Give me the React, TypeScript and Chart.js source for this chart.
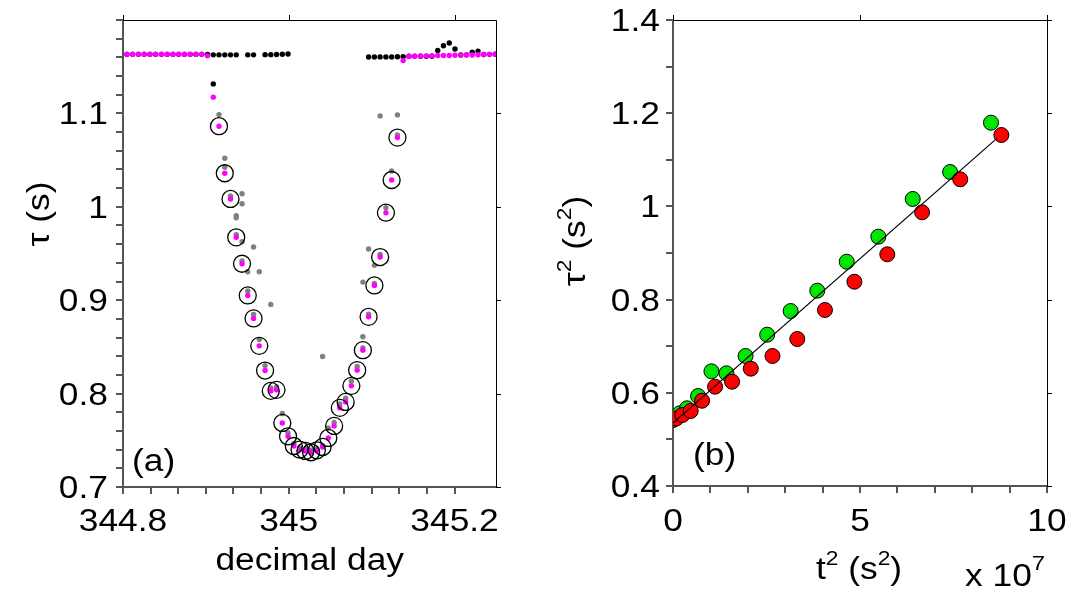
import React, { useEffect, useRef } from 'react';
import { Chart, registerables } from 'chart.js';

Chart.register(...registerables);

// ---------------- Panel (a) data ----------------
const magentaDay = [
  344.8047, 344.8116, 344.8186, 344.8255, 344.8325, 344.8394, 344.8464, 344.8533, 344.8603, 344.8672,
  344.8741, 344.8811, 344.888, 344.895, 344.9019, 344.9089, 344.9158, 344.9228, 344.9297, 344.9366,
  344.9436, 344.9505, 344.9575, 344.9644, 344.9714, 344.9783, 344.9852, 344.9922, 344.9991, 345.0061,
  345.013, 345.02, 345.0269, 345.0339, 345.0408, 345.0477, 345.0547, 345.0616, 345.0686, 345.0755,
  345.0825, 345.0894, 345.0963, 345.1033, 345.1102, 345.1172, 345.1241, 345.1311, 345.138, 345.145,
  345.1519, 345.1588, 345.1658, 345.1727, 345.1797, 345.1866, 345.1936, 345.2005, 345.2075, 345.2144,
  345.2213, 345.2283, 345.2352, 345.2422, 345.2491,
];
const magentaTau = [
  1.1634, 1.1634, 1.1634, 1.1634, 1.1634, 1.1634, 1.1634, 1.1634, 1.1634, 1.1634,
  1.1634, 1.1634, 1.1634, 1.1634, 1.1616, 1.1174, 1.0863, 1.0359, 1.0084, 0.9673,
  0.939, 0.9051, 0.8805, 0.8511, 0.8247, 0.8029, 0.804, 0.7686, 0.7543, 0.7439,
  0.7401, 0.7386, 0.7372, 0.7393, 0.7429, 0.7525, 0.7654, 0.7847, 0.7911, 0.8083,
  0.8251, 0.8465, 0.8822, 0.9158, 0.9462, 0.9937, 1.0287, 1.0741, 1.1566, 1.1612,
  1.1612, 1.1614, 1.1616, 1.1618, 1.162, 1.162, 1.162, 1.1622, 1.1624, 1.1625,
  1.1626, 1.1628, 1.163, 1.1632, 1.1634,
];

const circleDay = [
  344.9158, 344.9228, 344.9297, 344.9366, 344.9436, 344.9505, 344.9575, 344.9644, 344.9714, 344.9783,
  344.9852, 344.9922, 344.9991, 345.0061, 345.013, 345.02, 345.0269, 345.0339, 345.0408, 345.0477,
  345.0547, 345.0616, 345.0686, 345.0755, 345.0825, 345.0894, 345.0963, 345.1033, 345.1102, 345.1172,
  345.1241, 345.1311,
];
const circleTau = [
  1.0863, 1.0359, 1.0084, 0.9673, 0.939, 0.9051, 0.8805, 0.8511, 0.8247, 0.8029,
  0.804, 0.7686, 0.7543, 0.7439, 0.7401, 0.7386, 0.7372, 0.7393, 0.7429, 0.7525,
  0.7654, 0.7847, 0.7911, 0.8083, 0.8251, 0.8465, 0.8822, 0.9158, 0.9462, 0.9937,
  1.0287, 1.0741,
];

const blackDay = [
  344.8047, 344.8116, 344.8186, 344.8255, 344.8325, 344.8394, 344.8464, 344.8533, 344.8603, 344.8672,
  344.8741, 344.8811, 344.888, 344.895, 344.9019, 344.9089, 344.9089, 344.9158, 344.9228, 344.9297,
  344.9366, 344.9505, 344.9575, 344.9714, 344.9783, 344.9852, 344.9922, 344.9991,
  345.0963, 345.1033, 345.1102, 345.1172, 345.1241, 345.1311, 345.138,
  345.145, 345.1519, 345.1588, 345.1658, 345.1727, 345.1797, 345.1866, 345.1936, 345.2005, 345.2075,
  345.2144, 345.2213, 345.2283, 345.2352, 345.2422, 345.2491,
];
const blackTau = [
  1.1632, 1.1632, 1.1632, 1.1632, 1.1632, 1.1632, 1.1632, 1.1632, 1.1632, 1.1632,
  1.1632, 1.1632, 1.1632, 1.1632, 1.1632, 1.1627, 1.1316, 1.1627, 1.1627, 1.1627,
  1.1627, 1.1627, 1.1627, 1.1629, 1.1629, 1.1631, 1.1633, 1.1636,
  1.1604, 1.1604, 1.1605, 1.1605, 1.1605, 1.1606, 1.1606,
  1.1612, 1.1612, 1.1612, 1.1612, 1.1612, 1.1673, 1.1724, 1.1754, 1.169, 1.1626,
  1.1627, 1.1656, 1.1667, 1.163, 1.1632, 1.1634,
];

const grayDay = [
  344.9158, 344.9228, 344.9228, 344.9297, 344.9366, 344.9366, 344.9366, 344.9436, 344.9436, 344.9436,
  344.9436, 344.9505, 344.9505, 344.9575, 344.9575, 344.9644, 344.9644, 344.9714, 344.9783, 344.9783,
  344.9852, 344.9922, 344.9991, 345.0061, 345.013, 345.02, 345.0269, 345.0339, 345.0408, 345.0408,
  345.0477, 345.0547, 345.0616, 345.0686, 345.0755, 345.0825, 345.0894, 345.0894, 345.0894, 345.0963,
  345.0963, 345.1033, 345.1033, 345.1102, 345.1102, 345.1172, 345.1241, 345.1311, 345.1311,
];
const grayTau = [
  1.0987, 1.052, 1.0423, 1.0116, 0.9905, 0.9883, 0.97, 1.014, 1.0033, 0.9626,
  0.942, 0.9304, 0.9098, 0.9569, 0.8848, 0.9304, 0.858, 0.83, 0.8955, 0.806,
  0.807, 0.7787, 0.758, 0.7465, 0.742, 0.741, 0.7395, 0.741, 0.8398, 0.7445,
  0.7632, 0.769, 0.789, 0.795, 0.8133, 0.829, 0.9194, 0.8608, 0.849, 0.9548,
  0.885, 0.9373, 0.918, 1.0973, 0.949, 0.999, 1.0384, 1.0984, 1.077,
];

const leftXTicks = [344.8, 344.8333, 344.8667, 344.9, 344.9333, 344.9667, 345, 345.0333, 345.0667, 345.1, 345.1333, 345.1667, 345.2];
const leftXMajor = [344.8, 345, 345.2];
const leftXLabels = ['344.8', '345', '345.2'];
const leftYTicks = [0.7, 0.72, 0.74, 0.76, 0.78, 0.8, 0.82, 0.84, 0.86, 0.88, 0.9, 0.92, 0.94, 0.96, 0.98, 1.0, 1.02, 1.04, 1.06, 1.08, 1.1, 1.12, 1.14, 1.16, 1.18, 1.2];
const leftYMajor = [0.7, 0.8, 0.9, 1.0, 1.1];
const leftYLabels = ['0.7', '0.8', '0.9', '1', '1.1'];

// ---------------- Panel (b) data ----------------
const greenT2 = [0.02, 0.18, 0.375, 0.67, 1.028, 1.43, 1.94, 2.518, 3.145, 3.857, 4.645, 5.49, 6.41, 7.41, 8.502];
const greenTau2 = [0.543, 0.556, 0.5667, 0.5931, 0.6461, 0.6418, 0.679, 0.7247, 0.7755, 0.8191, 0.8813, 0.935, 1.0159, 1.0738, 1.1796];
const redT2 = [0.0, 0.09, 0.25, 0.474, 0.777, 1.125, 1.58, 2.08, 2.66, 3.323, 4.063, 4.85, 5.73, 6.66, 7.68, 8.78];
const redTau2 = [0.5416, 0.545, 0.5524, 0.561, 0.583, 0.6131, 0.6238, 0.6518, 0.679, 0.7155, 0.7777, 0.8384, 0.8972, 0.9873, 1.0581, 1.1532];
const fitT2 = [0, 8.66];
const fitTau2 = [0.535, 1.146];

const rightXTicks = [0, 1, 2, 3, 4, 5, 6, 7, 8, 9, 10];
const rightXMajor = [0, 5, 10];
const rightXLabels = ['0', '5', '10'];
const rightYTicks = [0.4, 0.5, 0.6, 0.7, 0.8, 0.9, 1.0, 1.1, 1.2, 1.3, 1.4];
const rightYMajor = [0.4, 0.6, 0.8, 1.0, 1.2, 1.4];
const rightYLabels = ['0.4', '0.6', '0.8', '1', '1.2', '1.4'];

// ---------------- helpers ----------------
const FONT = '"Liberation Sans", Arial, Helvetica, sans-serif';
const FS = 31;
const HS = 1.14;
const AXIS_GRAY = '#555555';

type Seg = { t: string; s?: number; dy?: number };

function drawText(
  ctx: CanvasRenderingContext2D,
  segs: Seg[],
  x: number,
  y: number,
  align: 'left' | 'center' | 'right',
  rotate = false
) {
  ctx.save();
  ctx.translate(x, y);
  if (rotate) ctx.rotate(-Math.PI / 2);
  ctx.scale(HS, 1);
  ctx.textAlign = 'left';
  ctx.textBaseline = 'alphabetic';
  ctx.fillStyle = '#000';
  const widths = segs.map((s) => {
    ctx.font = `${s.s || FS}px ${FONT}`;
    return ctx.measureText(s.t).width;
  });
  const total = widths.reduce((a, b) => a + b, 0);
  let cx = align === 'center' ? -total / 2 : align === 'right' ? -total : 0;
  segs.forEach((s, i) => {
    ctx.font = `${s.s || FS}px ${FONT}`;
    ctx.fillText(s.t, cx, -(s.dy || 0));
    cx += widths[i];
  });
  ctx.restore();
}

function pts(xs: number[], ys: number[]) {
  return xs.map((x, i) => ({ x, y: ys[i] }));
}

type PanelCfg = {
  xMajor: number[];
  xLabels: string[];
  yMajor: number[];
  yLabels: string[];
  yLabelRight: number;
  extra: (ctx: CanvasRenderingContext2D, chart: any) => void;
};

function framePlugin(cfg: PanelCfg) {
  return {
    id: 'frameAndText',
    afterDraw(chart: any) {
      const { ctx, chartArea: a, scales } = chart;
      ctx.save();
      ctx.strokeStyle = '#000';
      ctx.lineWidth = 1;
      ctx.beginPath();
      ctx.moveTo(a.left, a.top + 0.5);
      ctx.lineTo(a.right + 0.5, a.top + 0.5);
      ctx.lineTo(a.right + 0.5, a.bottom);
      ctx.stroke();
      ctx.beginPath();
      cfg.xMajor.forEach((v) => {
        const px = Math.round(scales.x.getPixelForValue(v)) + 0.5;
        ctx.moveTo(px, a.top);
        ctx.lineTo(px, a.top - 5);
      });
      cfg.yMajor.forEach((v) => {
        const py = Math.round(scales.y.getPixelForValue(v)) + 0.5;
        ctx.moveTo(a.right, py);
        ctx.lineTo(a.right + 5, py);
      });
      ctx.stroke();
      ctx.restore();

      cfg.xMajor.forEach((v, i) => {
        drawText(ctx, [{ t: cfg.xLabels[i] }], scales.x.getPixelForValue(v), 531, 'center');
      });
      cfg.yMajor.forEach((v, i) => {
        drawText(ctx, [{ t: cfg.yLabels[i] }], cfg.yLabelRight, scales.y.getPixelForValue(v) + 11, 'right');
      });
      cfg.extra(ctx, chart);
    },
  };
}

function axisOpts(min: number, max: number, ticks: number[], size: number, isX: boolean) {
  return {
    type: 'linear',
    min,
    max,
    afterBuildTicks: (s: any) => {
      s.ticks = ticks.map((v) => ({ value: v }));
    },
    afterFit: (s: any) => {
      if (isX) s.height = size;
      else s.width = size;
    },
    ticks: { display: false, autoSkip: false },
    grid: {
      drawOnChartArea: false,
      drawTicks: true,
      tickLength: 7,
      color: AXIS_GRAY,
      lineWidth: 2,
    },
    border: { display: true, color: AXIS_GRAY, width: 2 },
  };
}

export default function App() {
  const leftRef = useRef<HTMLCanvasElement>(null);
  const rightRef = useRef<HTMLCanvasElement>(null);

  useEffect(() => {
    const left = new Chart(leftRef.current as HTMLCanvasElement, {
      type: 'scatter',
      data: {
        datasets: [
          {
            label: 'fit circles',
            data: pts(circleDay, circleTau),
            pointRadius: 8.5,
            pointBorderWidth: 1.3,
            pointBorderColor: '#000',
            pointBackgroundColor: 'rgba(0,0,0,0)',
          },
          {
            label: 'magenta',
            data: pts(magentaDay, magentaTau),
            pointRadius: 2.7,
            pointBorderWidth: 0,
            pointBackgroundColor: '#ff00ff',
          },
          {
            label: 'black',
            data: pts(blackDay, blackTau),
            pointRadius: 2.7,
            pointBorderWidth: 0,
            pointBackgroundColor: '#000000',
          },
          {
            label: 'gray',
            data: pts(grayDay, grayTau),
            pointRadius: 2.7,
            pointBorderWidth: 0,
            pointBackgroundColor: '#808080',
          },
        ],
      } as any,
      options: {
        animation: false,
        responsive: false,
        devicePixelRatio: 1,
        layout: { padding: { left: 0, top: 20, right: 49, bottom: 0 } },
        plugins: { legend: { display: false }, tooltip: { enabled: false } },
        scales: {
          x: axisOpts(344.8, 345.25, leftXTicks, 103, true),
          y: axisOpts(0.7, 1.2, leftYTicks, 123, false),
        } as any,
      },
      plugins: [
        framePlugin({
          xMajor: leftXMajor,
          xLabels: leftXLabels,
          yMajor: leftYMajor,
          yLabels: leftYLabels,
          yLabelRight: 108,
          extra: (ctx) => {
            drawText(ctx, [{ t: 'decimal day' }], 309.7, 570, 'center');
            drawText(ctx, [{ t: 'τ (s)' }], 49, 214, 'center', true);
            drawText(ctx, [{ t: '(a)' }], 132, 471, 'left');
          },
        }),
      ],
    });

    const right = new Chart(rightRef.current as HTMLCanvasElement, {
      type: 'scatter',
      data: {
        datasets: [
          {
            type: 'line',
            label: 'fit',
            data: pts(fitT2, fitTau2),
            borderColor: '#000',
            borderWidth: 1.2,
            pointRadius: 0,
            fill: false,
          },
          {
            label: 'red',
            data: pts(redT2, redTau2),
            pointRadius: 7.5,
            pointBorderWidth: 1,
            pointBorderColor: '#000',
            pointBackgroundColor: '#ff0000',
          },
          {
            label: 'green',
            data: pts(greenT2, greenTau2),
            pointRadius: 7.5,
            pointBorderWidth: 1,
            pointBorderColor: '#000',
            pointBackgroundColor: '#00e600',
          },
        ],
      } as any,
      options: {
        animation: false,
        responsive: false,
        devicePixelRatio: 1,
        layout: { padding: { left: 0, top: 20, right: 22, bottom: 0 } },
        plugins: { legend: { display: false }, tooltip: { enabled: false } },
        scales: {
          x: axisOpts(0, 10, rightXTicks, 104, true),
          y: axisOpts(0.4, 1.4, rightYTicks, 128, false),
        } as any,
      },
      plugins: [
        framePlugin({
          xMajor: rightXMajor,
          xLabels: rightXLabels,
          yMajor: rightYMajor,
          yLabels: rightYLabels,
          yLabelRight: 115,
          extra: (ctx) => {
            drawText(
              ctx,
              [{ t: 't' }, { t: '2', s: 20, dy: 14 }, { t: ' (s' }, { t: '2', s: 20, dy: 14 }, { t: ')' }],
              314,
              579,
              'center'
            );
            drawText(ctx, [{ t: 'x 10' }, { t: '7', s: 21, dy: 16 }], 420, 586, 'left');
            drawText(
              ctx,
              [{ t: 'τ' }, { t: '2', s: 20, dy: 14 }, { t: ' (s' }, { t: '2', s: 20, dy: 14 }, { t: ')' }],
              40,
              241,
              'center',
              true
            );
            drawText(ctx, [{ t: '(b)' }], 148, 465, 'left');
          },
        }),
      ],
    });

    return () => {
      left.destroy();
      right.destroy();
    };
  }, []);

  return (
    <div style={{ position: 'absolute', left: 0, top: 0, width: 1069, height: 590, background: '#fff' }}>
      <canvas
        ref={leftRef}
        width={545}
        height={590}
        style={{ position: 'absolute', left: 0, top: 0, width: 545, height: 590 }}
      />
      <canvas
        ref={rightRef}
        width={524}
        height={590}
        style={{ position: 'absolute', left: 545, top: 0, width: 524, height: 590 }}
      />
    </div>
  );
}
